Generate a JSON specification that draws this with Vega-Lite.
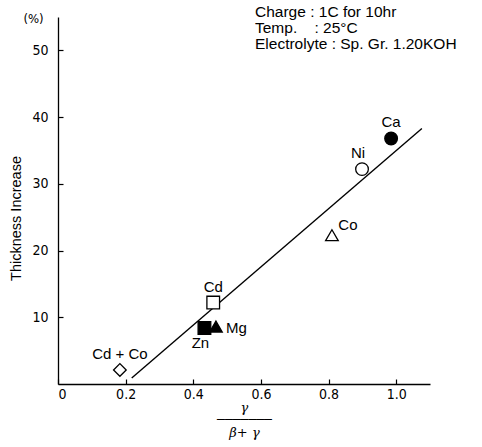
{
  "$schema": "https://vega.github.io/schema/vega-lite/v6.json",
  "width": 372,
  "height": 367,
  "autosize": {"type": "none"},
  "padding": {"left": 58, "top": 17, "right": 52, "bottom": 63},
  "background": "white",
  "config": {
    "view": {"stroke": null},
    "font": "DejaVu Sans Condensed, Liberation Sans, sans-serif",
    "axis": {
      "domainColor": "black",
      "domainWidth": 1.3,
      "tickColor": "black",
      "tickWidth": 1.2,
      "labelColor": "black",
      "titleColor": "black",
      "grid": false,
      "labelFontSize": 14,
      "titleFontSize": 14,
      "titleFontWeight": "normal"
    }
  },
  "title": {
    "text": ["Charge : 1C for 10hr", "Temp.\u00a0\u00a0\u00a0 : 25°C", "Electrolyte : Sp. Gr. 1.20KOH"],
    "anchor": "start",
    "frame": "group",
    "align": "left",
    "baseline": "top",
    "dx": 197,
    "offset": -40,
    "fontSize": 15.5,
    "fontWeight": "normal",
    "lineHeight": 16,
    "font": "Liberation Sans, sans-serif",
    "color": "black"
  },
  "datasets": {
    "points": [
      {"element": "Ca", "ratio": 0.985, "increase": 36.8, "label": "Ca"},
      {"element": "Ni", "ratio": 0.899, "increase": 32.2, "label": "Ni"},
      {"element": "Co", "ratio": 0.81, "increase": 22.3, "label": "Co"},
      {"element": "Cd", "ratio": 0.459, "increase": 12.2, "label": "Cd"},
      {"element": "Zn", "ratio": 0.433, "increase": 8.4, "label": "Zn"},
      {"element": "Mg", "ratio": 0.467, "increase": 8.6, "label": "Mg"},
      {"element": "Cd+Co", "ratio": 0.183, "increase": 2.1, "label": "Cd + Co"}
    ],
    "fit": [
      {"ratio": 0.218, "increase": 0.9},
      {"ratio": 1.076, "increase": 38.3}
    ]
  },
  "layer": [
    {
      "data": {"name": "fit"},
      "mark": {"type": "line", "color": "black", "strokeWidth": 1.4},
      "encoding": {
        "x": {"field": "ratio", "type": "quantitative", "scale": {"domain": [0, 1.1], "nice": false, "zero": false},
          "axis": {
            "values": [0, 0.2, 0.4, 0.6, 0.8, 1.0],
            "labelExpr": "datum.value == 0 ? '0' : format(datum.value, '.1f')",
            "tickSize": -5,
            "labelPadding": 8,
            "title": ["γ", "───────", "β+ γ"],
            "titleFontStyle": "italic",
            "titleFont": "DejaVu Serif, serif",
            "titleFontSize": 13,
            "titleLineHeight": 12.5,
            "titlePadding": 0
          }},
        "y": {"field": "increase", "type": "quantitative", "scale": {"domain": [0, 55], "nice": false},
          "axis": {
            "values": [10, 20, 30, 40, 50],
            "tickSize": -5,
            "labelPadding": 15,
            "title": "Thickness  Increase",
            "titleFont": "Liberation Sans, sans-serif",
            "titleFontSize": 14.5,
            "titleX": -42,
            "titleY": 201,
            "titleAlign": "center",
            "titleBaseline": "middle",
            "titleAngle": -90
          }}
      }
    },
    {
      "data": {"name": "points"},
      "mark": {"type": "point", "filled": true, "size": 160, "stroke": "black", "strokeWidth": 1.3, "opacity": 1},
      "encoding": {
        "x": {"field": "ratio", "type": "quantitative"},
        "y": {"field": "increase", "type": "quantitative",
          "axis": {
            "orient": "left",
            "domain": false,
            "ticks": false,
            "labels": false,
            "title": "(%)",
            "titleAngle": 0,
            "titleX": -25,
            "titleY": 1,
            "titleAlign": "center",
            "titleBaseline": "middle",
            "titleFontSize": 13
          }},
        "shape": {"field": "element", "type": "nominal", "legend": null,
          "scale": {"domain": ["Ca", "Ni", "Co", "Cd", "Zn", "Mg", "Cd+Co"],
            "range": ["circle", "circle", "triangle-up", "square", "square", "triangle-up", "diamond"]}},
        "fill": {"field": "element", "type": "nominal", "legend": null,
          "scale": {"domain": ["Ca", "Ni", "Co", "Cd", "Zn", "Mg", "Cd+Co"],
            "range": ["black", "white", "white", "white", "black", "black", "white"]}}
      }
    },
    {
      "data": {"name": "points"},
      "transform": [{"filter": "datum.element == 'Ca' || datum.element == 'Cd' || datum.element == 'Cd+Co'"}],
      "mark": {"type": "text", "dy": -16, "fontSize": 15, "font": "Liberation Sans, sans-serif", "color": "black"},
      "encoding": {
        "x": {"field": "ratio", "type": "quantitative"},
        "y": {"field": "increase", "type": "quantitative", "axis": null},
        "text": {"field": "label"}
      }
    },
    {
      "data": {"name": "points"},
      "transform": [{"filter": "datum.element == 'Ni'"}],
      "mark": {"type": "text", "dx": -4, "dy": -16, "fontSize": 15, "font": "Liberation Sans, sans-serif", "color": "black"},
      "encoding": {
        "x": {"field": "ratio", "type": "quantitative"},
        "y": {"field": "increase", "type": "quantitative", "axis": null},
        "text": {"field": "label"}
      }
    },
    {
      "data": {"name": "points"},
      "transform": [{"filter": "datum.element == 'Co'"}],
      "mark": {"type": "text", "dx": 16, "dy": -10, "fontSize": 15, "font": "Liberation Sans, sans-serif", "color": "black"},
      "encoding": {
        "x": {"field": "ratio", "type": "quantitative"},
        "y": {"field": "increase", "type": "quantitative", "axis": null},
        "text": {"field": "label"}
      }
    },
    {
      "data": {"name": "points"},
      "transform": [{"filter": "datum.element == 'Zn'"}],
      "mark": {"type": "text", "dx": -4, "dy": 15, "fontSize": 15, "font": "Liberation Sans, sans-serif", "color": "black"},
      "encoding": {
        "x": {"field": "ratio", "type": "quantitative"},
        "y": {"field": "increase", "type": "quantitative", "axis": null},
        "text": {"field": "label"}
      }
    },
    {
      "data": {"name": "points"},
      "transform": [{"filter": "datum.element == 'Mg'"}],
      "mark": {"type": "text", "align": "left", "dx": 10, "dy": 1, "fontSize": 15, "font": "Liberation Sans, sans-serif", "color": "black"},
      "encoding": {
        "x": {"field": "ratio", "type": "quantitative"},
        "y": {"field": "increase", "type": "quantitative", "axis": null},
        "text": {"field": "label"}
      }
    }
  ],
  "resolve": {"axis": {"y": "independent"}}
}
